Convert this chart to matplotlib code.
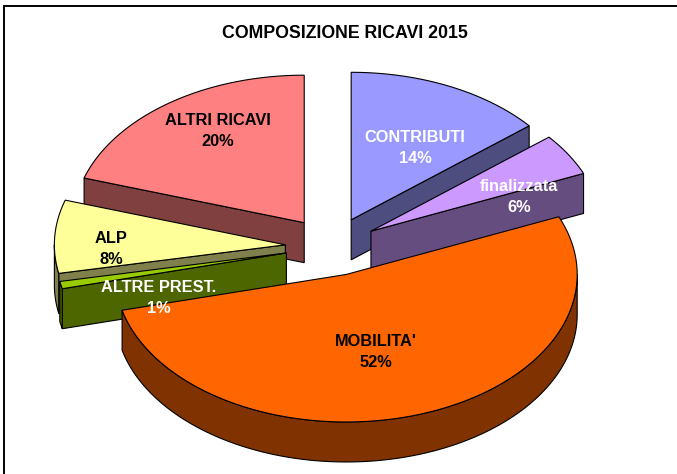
import numpy as np
import matplotlib
matplotlib.use("Agg")
import matplotlib.pyplot as plt
from matplotlib.patches import Polygon

names = ["CONTRIBUTI", "finalizzata", "MOBILITA'", "ALTRE PREST.", "ALP", "ALTRI RICAVI"]
shares = [14.0, 4.6, 52.5, 0.8, 8.0, 20.1]
percent_labels = ["14%", "6%", "52%", "1%", "8%", "20%"]

top_colors = ["#9999ff", "#cc99ff", "#ff6600", "#99cc00", "#ffff99", "#ff8080"]
wall_colors = ["#4d4d80", "#664d80", "#803300", "#4d6600", "#80804d", "#804040"]
text_colors = ["white", "white", "black", "white", "black", "black"]

# pixel centre of each label block
label_px = [(415, 148), (519, 197), (376, 352), (159, 298), (111, 249), (218, 131)]

W, H = 677, 474
CX, CY = 331.5, 246.5    # pie centre in pixels
RX, RY = 231.0, 147.5    # top face ellipse semi axes
DEPTH = 40.0 / RY
EXPLODE = 0.2

plt.rcParams["font.family"] = ["Liberation Sans", "DejaVu Sans"]
fig = plt.figure(figsize=(W / 100, H / 100), dpi=100)
ax = fig.add_axes([0, 0, 1, 1])
# unit circle in data, the axes limits squash it to the ellipse
ax.set_xlim(-CX / RX, (W - CX) / RX)
ax.set_ylim((CY - H) / RY, CY / RY)
ax.axis("off")


def to_data(px, py):
    return (px - CX) / RX, (CY - py) / RY


def ring(a0, a1):
    t = np.radians(np.linspace(a0, a1, max(int(a1 - a0) * 2, 2) + 1))
    return np.column_stack([np.sin(t), np.cos(t)])


def quad(p, q, color, z):
    drop = np.array([0, -DEPTH])
    ax.add_patch(Polygon([p, q, q + drop, p + drop], fc=color, ec="black", lw=0.8, zorder=z))


edges = np.cumsum([0] + shares) * 3.6
# back slices first, the big front slice last
order = [5, 0, 1, 4, 3, 2]
for z, i in enumerate(order):
    a0, a1 = edges[i], edges[i + 1]
    mid = np.radians((a0 + a1) / 2)
    apex = EXPLODE * np.array([np.sin(mid), np.cos(mid)])
    z0 = z * 10 + 1

    # straight walls, only the ones turned to the viewer
    for ang, sign in ((a0, 1), (a1, -1)):
        if sign * np.sin(np.radians(ang)) < 0:
            t = np.radians(ang)
            quad(apex, apex + np.array([np.sin(t), np.cos(t)]), wall_colors[i], z0)

    # outer wall is the part of the arc below the widest line
    lo, hi = max(a0, 90), min(a1, 270)
    if hi > lo:
        arc = apex + ring(lo, hi)
        low = arc + np.array([0, -DEPTH])
        ax.add_patch(Polygon(np.vstack([arc, low[::-1]]), fc=wall_colors[i], ec="black",
                             lw=0.8, zorder=z0 + 1))

    pts = np.vstack([apex, apex + ring(a0, a1)])
    ax.add_patch(Polygon(pts, fc=top_colors[i], ec="black", lw=0.8, zorder=z0 + 2))

for name, pct, pos, col in zip(names, percent_labels, label_px, text_colors):
    x, y = to_data(*pos)
    ax.text(x, y, name + "\n" + pct, color=col, fontsize=11.8, fontweight="bold",
            ha="center", va="center", linespacing=1.5, zorder=100)

x, y = to_data(344.5, 33)
ax.text(x, y, "COMPOSIZIONE RICAVI 2015", fontsize=12.8, fontweight="bold",
        ha="center", va="center", zorder=100)

# chart frame
ax.plot(*zip(to_data(3.5, H), to_data(3.5, 6), to_data(W, 6)), color="black", lw=1.4,
        solid_joinstyle="miter", zorder=100)

fig.savefig("out.png", dpi=100)
